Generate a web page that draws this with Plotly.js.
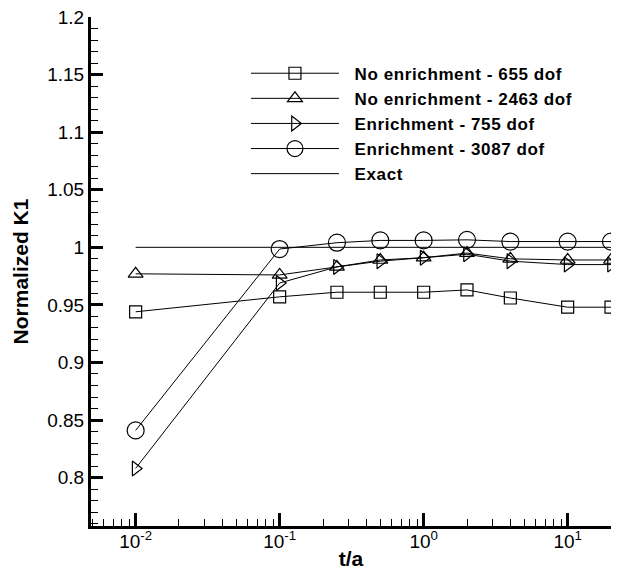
<!DOCTYPE html>
<html>
<head>
<meta charset="utf-8">
<script src="https://cdn.plot.ly/plotly-3.0.1.min.js"></script>
<style>
html,body{margin:0;padding:0;background:#fff;}
#chart{width:619px;height:570px;}
.legendtext{letter-spacing:0.6px;}
</style>
</head>
<body>
<div id="chart"></div>
<script>
// t/a values
const tOverA = [0.01, 0.1, 0.25, 0.5, 1, 2, 4, 10, 20];
// Normalized K1 series
const noEnrich655 = [0.944, 0.957, 0.961, 0.961, 0.961, 0.963, 0.956, 0.948, 0.948];
const noEnrich2463 = [0.977, 0.976, 0.983, 0.989, 0.991, 0.995, 0.990, 0.989, 0.989];
const enrich755 = [0.808, 0.969, 0.983, 0.988, 0.991, 0.994, 0.988, 0.985, 0.985];
const enrich3087 = [0.841, 0.9985, 1.004, 1.006, 1.006, 1.0065, 1.005, 1.005, 1.005];
const exactX = [0.01, 20];
const exactY = [1, 1];
const seriesNames = ["No enrichment - 655 dof", "No enrichment - 2463 dof", "Enrichment - 755 dof", "Enrichment - 3087 dof", "Exact"];
const xTickVals = [0.01, 0.1, 1, 10];
const xTickText = ["10<sup>-2</sup>", "10<sup>-1</sup>", "10<sup>0</sup>", "10<sup>1</sup>"];

const FONT = "Liberation Sans, Arial, Helvetica, sans-serif";
const PAD = "\u00a0\u00a0";
const minorX = [];
for (let d = -3; d <= 1; d++) { for (let m = 2; m <= 9; m++) minorX.push(m * Math.pow(10, d)); }

function tr(y, name, symbol, size) {
  return {x: tOverA, y: y, name: PAD + name, type: 'scatter', mode: 'lines+markers',
    line: {color: '#000', width: 1},
    marker: {symbol: symbol, size: size, color: '#000', line: {width: 1.2, color: '#000'}}};
}
const data = [
  tr(noEnrich655, seriesNames[0], 'square-open', 12),
  tr(noEnrich2463, seriesNames[1], 'triangle-up-open', 13),
  tr(enrich755, seriesNames[2], 'triangle-right-open', 13),
  tr(enrich3087, seriesNames[3], 'circle-open', 17),
  {x: exactX, y: exactY, name: PAD + seriesNames[4], type: 'scatter', mode: 'lines', line: {color: '#000', width: 1}}
];
const layout = {
  width: 619, height: 570,
  margin: {l: 91, r: 8, t: 17, b: 44},
  paper_bgcolor: '#fff', plot_bgcolor: '#fff',
  font: {family: FONT, color: '#000', size: 19},
  showlegend: true,
  legend: {x: 0.298, y: 0.924, xanchor: 'left', yanchor: 'top', bgcolor: 'rgba(0,0,0,0)',
    font: {family: FONT, size: 17, weight: 'bold'}, itemwidth: 88, traceorder: 'normal'},
  xaxis: {type: 'log', range: [-2.31, 1.301], showgrid: false, zeroline: false,
    showline: true, linewidth: 3, linecolor: '#000', mirror: false,
    tickmode: 'array', tickvals: xTickVals, ticktext: xTickText,
    ticks: 'inside', ticklen: 13, tickwidth: 3, tickcolor: '#000',
    tickfont: {family: FONT, size: 19}, ticklabelstandoff: -4,
    minor: {tickmode: 'array', tickvals: minorX, ticks: 'inside', ticklen: 7, tickwidth: 1, tickcolor: '#000'},
    title: {text: 't/a', font: {family: FONT, size: 21, weight: 'bold'}, standoff: 2}},
  yaxis: {range: [0.758, 1.2], showgrid: false, zeroline: false,
    showline: true, linewidth: 3, linecolor: '#000', mirror: false,
    tickmode: 'linear', tick0: 0.8, dtick: 0.05,
    ticks: 'inside', ticklen: 12, tickwidth: 3, tickcolor: '#000',
    tickfont: {family: FONT, size: 19},
    minor: {dtick: 0.01, ticks: 'inside', ticklen: 7, tickwidth: 1, tickcolor: '#000'},
    title: {text: 'Normalized K1', font: {family: FONT, size: 21, weight: 'bold'}, standoff: 13}}
};
Plotly.newPlot('chart', data, layout, {staticPlot: true, displayModeBar: false});
</script>
</body>
</html>
